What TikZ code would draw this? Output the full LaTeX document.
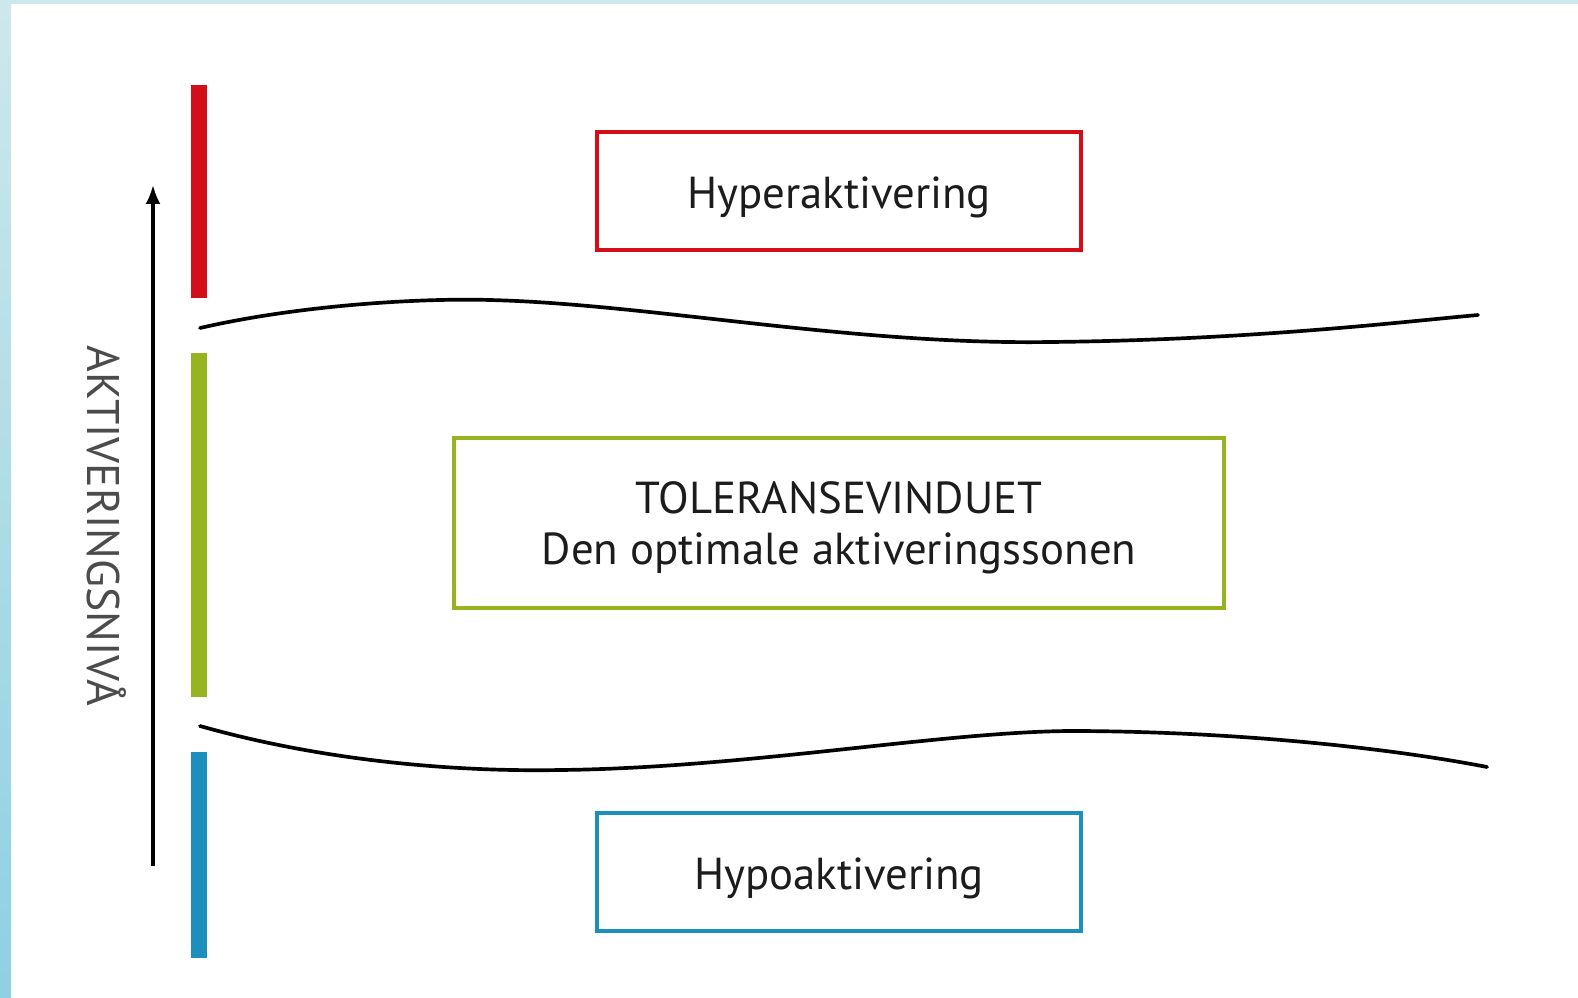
\documentclass[tikz,border=0pt]{standalone}
\usepackage{fontspec}
\setmainfont{PT Sans}
\usetikzlibrary{arrows.meta}

\definecolor{hyperred}{HTML}{D20E19}
\definecolor{tolgreen}{HTML}{95B41F}
\definecolor{hypoblue}{HTML}{1C8FBD}
\definecolor{edgecyan}{HTML}{CDE8EC}
\definecolor{edgeblue}{HTML}{8FD0E1}
\definecolor{textgrey}{HTML}{1C1C1C}

\begin{document}
\begin{tikzpicture}[x=0.02cm, y=-0.02cm,
    zonebox/.style={draw, line width=2.3pt, minimum width=9.68cm, minimum height=2.36cm,
        align=center, text=textgrey, font=\fontsize{25.5}{29}\selectfont},
    zonetext/.style={text=textgrey, align=center, font=\fontsize{25.5}{29}\selectfont},
    zonebar/.style={line width=0.32cm},
    wave/.style={line width=2.1pt, line cap=round}]
			% frame
			\useasboundingbox (0,0) rectangle (1578,997);
			\fill[white] (0,0) rectangle (1578,997);
			\shade[top color=edgecyan, bottom color=edgeblue] (0,0) rectangle (11,997);
			\fill[edgecyan] (0,0) rectangle (1578,4);

			% colour bars
			\draw[zonebar, hyperred] (199,85) -- (199,298);
			\draw[zonebar, tolgreen] (199,353) -- (199,697);
			\draw[zonebar, hypoblue] (199,752) -- (199,958);

			% level axis
			\coordinate (axbot) at (153,866);
			\coordinate (axtop) at (153,185);
			\draw[line width=1.8pt, -{Latex[length=0.38cm, width=0.3cm]}] (axbot) -- (axtop);
			\node[rotate=-90, text=black!70, font=\fontsize{26}{30}\selectfont] (axlabel) at (107,526) {AKTIVERINGSNIV\AA};

			% boundaries
			\draw[wave] (200,328) .. controls (300,305) and (420,298) .. (490,300)
			      .. controls (650,304) and (850,345) .. (1050,342)
			      .. controls (1250,340) and (1400,322) .. (1478,315);
			\draw[wave] (200,726) .. controls (320,760) and (450,772) .. (560,770)
			      .. controls (750,768) and (950,730) .. (1080,731)
			      .. controls (1250,732) and (1400,750) .. (1487,767);

			% zones
			\node[zonebox, draw=hyperred] (hyper) at (839,191) {};
			\node[zonetext] (hypertxt) at (839,197) {Hyperaktivering};
			\node[zonebox, draw=tolgreen, minimum width=15.4cm, minimum height=3.4cm] (window) at (839,523) {};
			\node[zonetext] (windowtxt) at (839,528) {TOLERANSEVINDUET\\Den optimale aktiveringssonen};
			\node[zonebox, draw=hypoblue] (hypo) at (839,872) {};
			\node[zonetext] (hypotxt) at (839,878) {Hypoaktivering};

		\end{tikzpicture}
\end{document}
